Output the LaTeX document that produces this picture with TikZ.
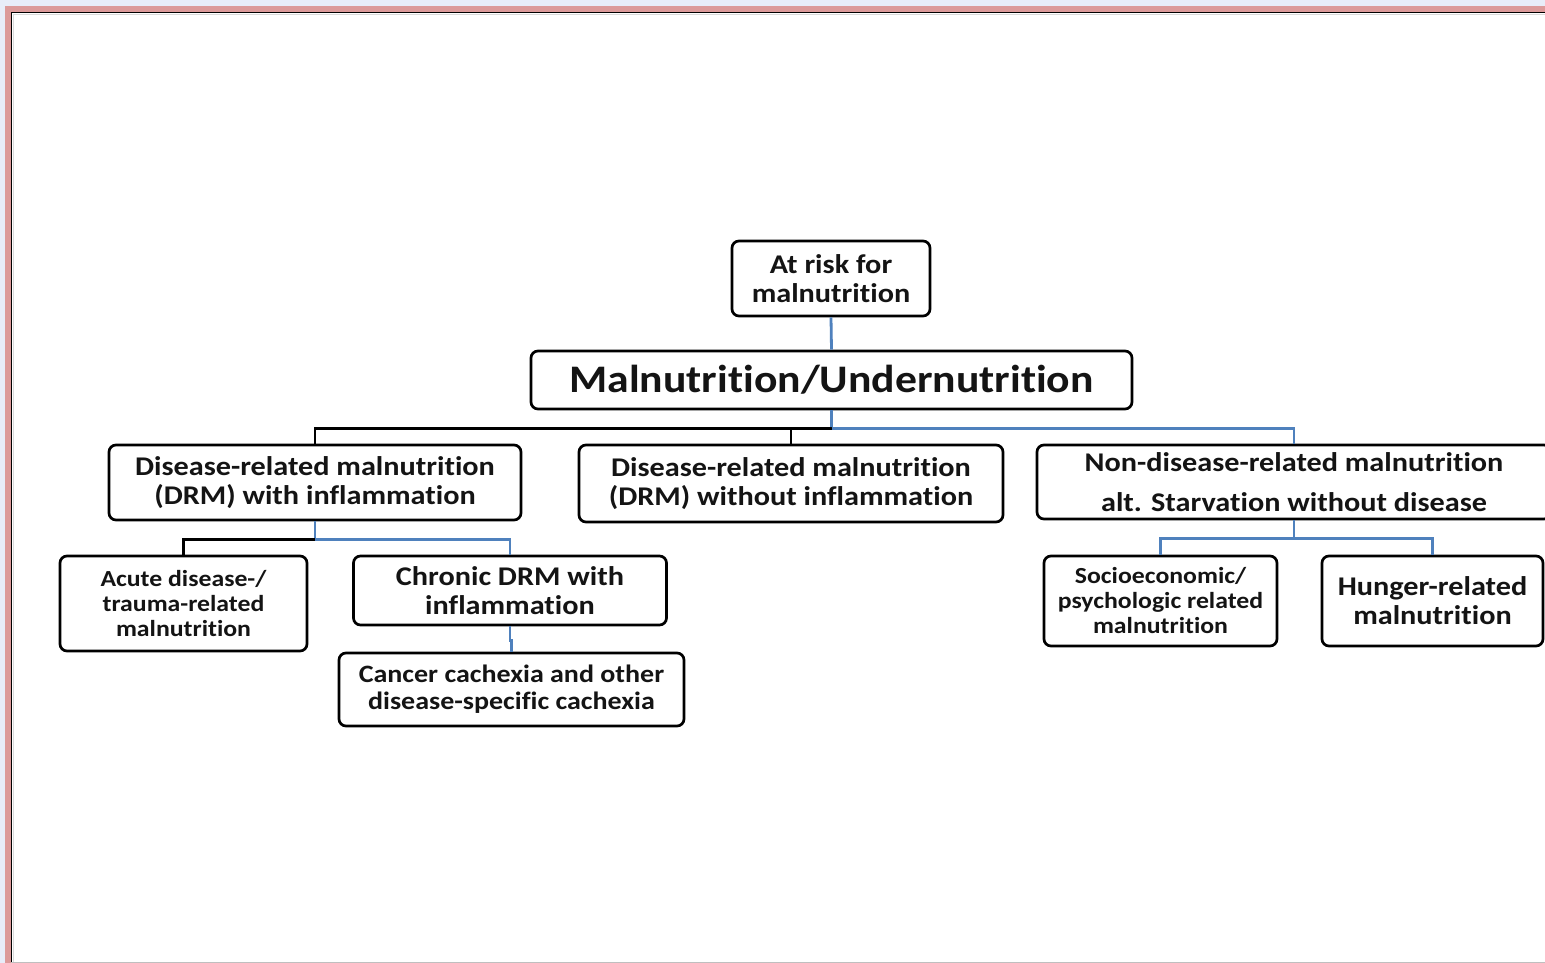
\documentclass[tikz,border=0pt]{standalone}
\usepackage{fontspec}
\setmainfont{Carlito}[FakeStretch=1.12, Ligatures=NoCommon]
\definecolor{lineblue}{HTML}{4F81BD}
\definecolor{framepink}{HTML}{DC9A9A}
\definecolor{outerbg}{HTML}{E8EDF9}
\begin{document}
\begin{tikzpicture}[x=1pt,y=-1pt,
  box/.style={draw=black, line width=2.7pt, rounded corners=7pt, fill=white,
    align=center, inner sep=0pt, text=black!92,
    font=\bfseries\fontsize{27}{29}\selectfont},
  smallbox/.style={box, font=\bfseries\fontsize{23}{25}\selectfont},
  blueline/.style={draw=lineblue, line width=2.8pt},
  blackline/.style={draw=black, line width=2.8pt}]
\useasboundingbox (0,0) rectangle (1545,963);
\clip (0,0) rectangle (1545,963);
% frame
\fill[outerbg] (0,0) rectangle (1545,963);
\fill[framepink] (5,6) rectangle (1560,980);
\fill[white] (11,12) rectangle (1560,980);
\draw[black, line width=1.2pt] (11.6,980) -- (11.6,12.6) -- (1560,12.6);
\draw[black!15, line width=1.5pt] (13.5,980) -- (13.5,14.5) -- (1560,14.5);
\draw[black!25, line width=1.5pt] (11,962.5) -- (1560,962.5);
% nodes
\node[box, minimum width=198pt, minimum height=75pt] (risk) at (831,278.5) {At risk for\\malnutrition};
\node[box, minimum width=601pt, minimum height=58pt, font=\bfseries\fontsize{39}{44}\selectfont] (main) at (831.5,380) {Malnutrition/Undernutrition};
\node[box, minimum width=412pt, minimum height=75pt] (drmw) at (315,482.5) {Disease-related malnutrition\\(DRM) with inflammation};
\node[box, minimum width=424pt, minimum height=77pt] (drmwo) at (791,483.5) {Disease-related malnutrition\\(DRM) without inflammation};
\node[box, minimum width=514pt, minimum height=74pt] (nondis) at (1294,482) {Non-disease-related malnutrition\\[11pt]alt. Starvation without disease};
\node[smallbox, minimum width=247pt, minimum height=95pt] (acute) at (183.5,603.5) {Acute disease-/\\trauma-related\\malnutrition};
\node[box, minimum width=313pt, minimum height=69pt] (chronic) at (510,590.5) {Chronic DRM with\\inflammation};
\node[box, minimum width=345pt, minimum height=73pt, font=\bfseries\fontsize{25}{27}\selectfont] (cancer) at (511.5,689.5) {Cancer cachexia and other\\disease-specific cachexia};
\node[smallbox, minimum width=233pt, minimum height=90pt] (socio) at (1160.5,601) {Socioeconomic/\\psychologic related\\malnutrition};
\node[box, minimum width=221pt, minimum height=90pt] (hunger) at (1432.5,601) {Hunger-related\\malnutrition};
% connectors
\draw[blueline] (risk.south) -- (main.north);
\draw[blueline] (main.south) -- ++(0,18) coordinate (j1);
\draw[blackline] (drmw.north) -- (drmw.north |- j1) -- (j1);
\draw[blackline] (drmwo.north) -- (drmwo.north |- j1);
\draw[blueline] (j1) -- (nondis.north |- j1) -- (nondis.north);
\draw[blueline] (drmw.south) -- ++(0,18) coordinate (j2);
\draw[blackline] (acute.north) -- (acute.north |- j2) -- (j2);
\draw[blueline] (j2) -- (chronic.north |- j2) -- (chronic.north);
\draw[blueline] (chronic.south) -- ++(0,14) coordinate (j4) -| (cancer.north);
\draw[blueline] (nondis.south) -- ++(0,18) coordinate (j3);
\draw[blueline] (socio.north) -- (socio.north |- j3) -- (hunger.north |- j3) -- (hunger.north);
\end{tikzpicture}
\end{document}
